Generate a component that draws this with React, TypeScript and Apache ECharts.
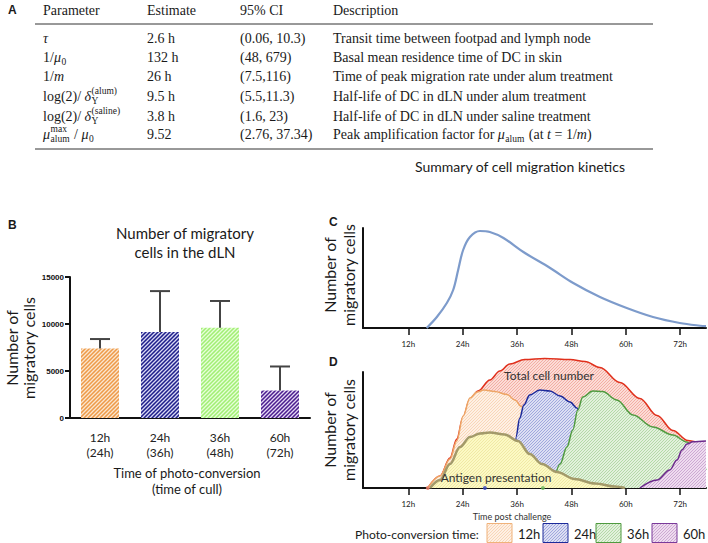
import React, { useEffect, useRef } from 'react';
import * as echarts from 'echarts';

// ---------------- data ----------------
type Tok = { t: string; it?: boolean; sub?: string; sup?: string };

const tableHeader = ['Parameter', 'Estimate', '95% CI', 'Description'];
const tableParameters: Tok[][] = [
  [{ t: 'τ', it: true }],
  [{ t: '1/' }, { t: 'μ', it: true, sub: '0' }],
  [{ t: '1/' }, { t: 'm', it: true }],
  [{ t: 'log(2)/ ' }, { t: 'δ', it: true, sub: 'Y', sup: '(alum)' }],
  [{ t: 'log(2)/ ' }, { t: 'δ', it: true, sub: 'Y', sup: '(saline)' }],
  [{ t: 'μ', it: true, sub: 'alum', sup: 'max' }, { t: ' / ' }, { t: 'μ', it: true, sub: '0' }],
];
const tableEstimates = ['2.6 h', '132 h', '26 h', '9.5 h', '3.8 h', '9.52'];
const tableIntervals = ['(0.06, 10.3)', '(48, 679)', '(7.5,116)', '(5.5,11.3)', '(1.6, 23)', '(2.76, 37.34)'];
const tableDescriptions: Tok[][] = [
  [{ t: 'Transit time between footpad and lymph node' }],
  [{ t: 'Basal mean residence time of DC in skin' }],
  [{ t: 'Time of peak migration rate under alum treatment' }],
  [{ t: 'Half-life of DC in dLN under alum treatment' }],
  [{ t: 'Half-life of DC in dLN under saline treatment' }],
  [
    { t: 'Peak amplification factor for ' },
    { t: 'μ', it: true, sub: 'alum' },
    { t: ' (at ' },
    { t: 't', it: true },
    { t: ' = 1/' },
    { t: 'm', it: true },
    { t: ')' },
  ],
];

const barCategories = ['12h\n(24h)', '24h\n(36h)', '36h\n(48h)', '60h\n(72h)'];
const barMeans = [7400, 9150, 9600, 2920];
const barUpper = [8400, 13500, 12450, 5480];

const timeTicks = [12, 24, 36, 48, 60, 72];

// panel C: migration kinetics (hours, relative units)
const kineticsCurve: [number, number][] = [
  [16.05, 0], [18.3, 11], [20.5, 25], [21.9, 38], [23.0, 58], [24.1, 78], [25.6, 91],
  [27.8, 97], [30, 96], [33, 90], [37.4, 76], [43.3, 60], [48.4, 45], [54.3, 31],
  [60.2, 20], [66, 11], [71.9, 5], [77, 2], [77.7, 1.8],
];

// panel D
const totalCells: [number, number][] = [
  [16.3, 0], [19.0, 12], [21.2, 30], [22.7, 49], [24.1, 71], [25.6, 89], [27.4, 97],
  [30.0, 108], [32.2, 117], [34.4, 124], [37.7, 128.5], [42.1, 129.5], [47.7, 128.5],
  [51.0, 126.5], [54.3, 120.5], [58.7, 105.5], [63.1, 89.5], [66.9, 72.5], [70.4, 57.5],
  [73.7, 47.5], [75.7, 46], [77.7, 46],
];
const conv12: [number, number][] = [
  [16.3, 0], [19.0, 12], [21.2, 29], [22.7, 47], [24.1, 72], [25.6, 90], [27.2, 96],
  [28.7, 98], [31.1, 96.5], [33.8, 93.5], [35.5, 88], [37.1, 81], [38.8, 50], [40, 0],
];
const conv24: [number, number][] = [
  [35.5, 0], [35.75, 51], [36.6, 70], [37.5, 83], [38.8, 93], [41.0, 98], [43.25, 97],
  [45.5, 92], [47.7, 86], [49.2, 80], [51.0, 48], [52.1, 0],
];
const conv36: [number, number][] = [
  [43.9, 0], [45.5, 24], [47.0, 41], [48.3, 58], [49.4, 78], [50.5, 91], [52.7, 97],
  [54.9, 96.5], [58.0, 88], [61.6, 73], [66.0, 61], [70.4, 53], [73.5, 46], [76.3, 28], [77.7, 18],
];
const conv60: [number, number][] = [
  [63.1, 0], [66.9, 8], [69.7, 18], [71.3, 28], [72.4, 38], [73.5, 44], [74.8, 46.3], [77.7, 47],
];
const antigen: [number, number][] = [
  [16.8, 0], [19.0, 8], [21.2, 24], [23.4, 41], [25.6, 51], [27.8, 54.5], [30.0, 55.5],
  [33.3, 53.5], [36.2, 47], [38.8, 34], [41.5, 24], [44.8, 16], [48.7, 9], [53.2, 4.5],
  [57.6, 1.5], [59.8, 0],
];
const onsetMarks: [number, number][] = [[16.3, 0], [28.9, 0], [41.7, 0]];

const legendLabels = ['12h', '24h', '36h', '60h'];

// ---------------- helpers ----------------
const SERIF = '"Liberation Serif", "DejaVu Serif", serif';
const SANS = 'Lato, "Open Sans", sans-serif';
const ARIAL = '"Liberation Sans", Arial, sans-serif';

let mctx: CanvasRenderingContext2D | null = null;
function textWidth(s: string, size: number, italic: boolean, family: string) {
  if (!mctx) mctx = document.createElement('canvas').getContext('2d');
  mctx!.font = `${italic ? 'italic ' : ''}${size}px ${family}`;
  return mctx!.measureText(s).width;
}

function txt(text: string, x: number, y: number, o: any = {}) {
  return {
    type: 'text',
    x,
    y,
    z: 100,
    rotation: o.rotation || 0,
    silent: true,
    style: {
      text,
      fontSize: o.size || 14,
      fontFamily: o.family || SANS,
      fontStyle: o.italic ? 'italic' : 'normal',
      fontWeight: o.bold ? 'bold' : 'normal',
      fill: o.fill || '#1a1a1a',
      align: o.align || 'left',
      verticalAlign: 'middle',
    },
  };
}

function tokens(toks: Tok[], x: number, y: number) {
  const out: any[] = [];
  let cx = x;
  const S = 14;
  const s = 9.5;
  for (const tk of toks) {
    out.push(txt(tk.t, cx, y, { size: S, family: SERIF, italic: tk.it }));
    cx += textWidth(tk.t, S, !!tk.it, SERIF);
    let extra = 0;
    if (tk.sup) {
      out.push(txt(tk.sup, cx + 0.5, y - 5.5, { size: s, family: SERIF }));
      extra = Math.max(extra, textWidth(tk.sup, s, false, SERIF));
    }
    if (tk.sub) {
      out.push(txt(tk.sub, cx + 0.5, y + 4.5, { size: s, family: SERIF }));
      extra = Math.max(extra, textWidth(tk.sub, s, false, SERIF));
    }
    if (extra) cx += extra + 1.5;
  }
  return out;
}

function hatch(bg: string, fg: string, size: number, lw: number) {
  const c = document.createElement('canvas');
  c.width = size;
  c.height = size;
  const g = c.getContext('2d')!;
  g.fillStyle = bg;
  g.fillRect(0, 0, size, size);
  g.strokeStyle = fg;
  g.lineWidth = lw;
  g.beginPath();
  g.moveTo(-1, size + 1);
  g.lineTo(size + 1, -1);
  g.moveTo(-size / 2 - 1, size / 2 + 1);
  g.lineTo(size / 2 + 1, -size / 2 - 1);
  g.moveTo(size / 2 - 1, size * 1.5 + 1);
  g.lineTo(size * 1.5 + 1, size / 2 - 1);
  g.stroke();
  return { image: c.toDataURL(), repeat: 'repeat', imageWidth: size, imageHeight: size };
}

export default function App() {
  const ref = useRef<HTMLDivElement>(null);

  useEffect(() => {
    document.body.style.margin = '0';
    const chart = echarts.init(ref.current!, undefined, { renderer: 'svg' });

    const barFills = [
      hatch('#ee9a48', '#fbe6cf', 4, 1.3),
      hatch('#1e1e8a', '#d8d8f4', 4, 1.3),
      hatch('#a2ee74', '#e6ffd8', 4, 1.3),
      hatch('#4b1d8e', '#e4d8f4', 4, 1.3),
    ];

    const dStyles = {
      total: { stroke: '#e0301c', fill: hatch('#fcdcd6', '#f0a89e', 3, 0.9) },
      c12: { stroke: '#eda566', fill: hatch('#fef0e4', '#f7d2b2', 3, 0.9) },
      c24: { stroke: '#1c2a9a', fill: hatch('#dcdff3', '#9aa2da', 3, 0.9) },
      c36: { stroke: '#4f9a3f', fill: hatch('#e2f1dc', '#afd6a2', 3, 0.9) },
      c60: { stroke: '#6c2a8c', fill: hatch('#eedcef', '#c8a2cf', 3, 0.9) },
      ag: { stroke: '#a39a6a', fill: hatch('#fcf9c4', '#eee6a2', 3, 0.9) },
    };

    // ---- graphic: table, labels, legend
    const g: any[] = [];
    const colX = [43, 147, 240, 333];
    const headerY = 10;
    const rowY = [38, 57, 76, 96, 116, 134];
    g.push(txt('A', 8, headerY, { size: 12, bold: true, family: ARIAL }));
    tableHeader.forEach((h, i) => g.push(txt(h, colX[i], headerY, { size: 14, family: SERIF })));
    g.push({ type: 'line', silent: true, z: 100, shape: { x1: 35, y1: 24, x2: 653, y2: 24 }, style: { stroke: '#333', lineWidth: 1 } });
    g.push({ type: 'line', silent: true, z: 100, shape: { x1: 35, y1: 149, x2: 653, y2: 149 }, style: { stroke: '#333', lineWidth: 1 } });
    tableParameters.forEach((p, i) => g.push(...tokens(p, colX[0], rowY[i])));
    tableEstimates.forEach((p, i) => g.push(txt(p, colX[1], rowY[i], { size: 14, family: SERIF })));
    tableIntervals.forEach((p, i) => g.push(txt(p, colX[2], rowY[i], { size: 14, family: SERIF })));
    tableDescriptions.forEach((p, i) => g.push(...tokens(p, colX[3], rowY[i])));

    g.push(txt('Summary of cell migration kinetics', 520, 166, { size: 14, align: 'center' }));

    // panel labels
    g.push(txt('B', 8, 225, { size: 12, bold: true, family: ARIAL }));
    g.push(txt('C', 329, 222, { size: 12, bold: true, family: ARIAL }));
    g.push(txt('D', 329, 362, { size: 12, bold: true, family: ARIAL }));

    // panel B texts
    g.push(txt('Number of migratory', 185, 233, { size: 15, align: 'center' }));
    g.push(txt('cells in the dLN', 185, 252, { size: 15, align: 'center' }));
    g.push(txt('Number of', 11, 348, { size: 16, align: 'center', rotation: Math.PI / 2 }));
    g.push(txt('migratory cells', 28, 348, { size: 16, align: 'center', rotation: Math.PI / 2 }));
    g.push(txt('Time of photo-conversion', 187, 473, { size: 13, align: 'center' }));
    g.push(txt('(time of cull)', 187, 489, { size: 13, align: 'center' }));

    // panel C / D y names
    g.push(txt('Number of', 329, 275, { size: 16, align: 'center', rotation: Math.PI / 2 }));
    g.push(txt('migratory cells', 348, 275, { size: 16, align: 'center', rotation: Math.PI / 2 }));
    g.push(txt('Number of', 329, 430, { size: 16, align: 'center', rotation: Math.PI / 2 }));
    g.push(txt('migratory cells', 348, 430, { size: 16, align: 'center', rotation: Math.PI / 2 }));

    // panel D annotations
    g.push(txt('Total cell number', 549, 375, { size: 12, align: 'center', fill: '#333' }));
    g.push(txt('Antigen presentation', 496, 477, { size: 12, align: 'center', fill: '#333' }));
    g.push(txt('Time post challenge', 512, 516, { size: 9, align: 'center', fill: '#333' }));

    // legend
    const legendTitle = 'Photo-conversion time:';
    const ltSize = Math.min(13, (13 * 124) / textWidth(legendTitle, 13, false, SANS));
    g.push(txt(legendTitle, 355, 534, { size: ltSize }));
    const legendStyles = [
      { stroke: '#f0b27a', fill: dStyles.c12.fill },
      { stroke: '#1c2a9a', fill: dStyles.c24.fill },
      { stroke: '#4f9a3f', fill: dStyles.c36.fill },
      { stroke: '#7a3a9a', fill: dStyles.c60.fill },
    ];
    const boxX = [487, 543, 596, 652];
    legendLabels.forEach((l, i) => {
      g.push({
        type: 'rect',
        silent: true,
        z: 100,
        shape: { x: boxX[i], y: 523.5, width: 25, height: 19 },
        style: { fill: legendStyles[i].fill, stroke: legendStyles[i].stroke, lineWidth: 1 },
      });
      g.push(txt(l, boxX[i] + 31, 534, { size: 13 }));
    });

    const timeAxis = (gridIndex: number) => ({
      type: 'value',
      gridIndex,
      min: 2,
      max: 77.7,
      axisLine: { show: true, lineStyle: { color: '#111', width: 2 } },
      axisTick: { show: true, customValues: timeTicks, length: 7, lineStyle: { color: '#111', width: 1.5 } },
      axisLabel: { customValues: timeTicks, formatter: '{value}h', fontSize: 8, color: '#222', margin: 12, fontFamily: SANS },
      splitLine: { show: false },
    });

    const dLine = (data: [number, number][], st: any, z: number, lw = 1.5) => ({
      type: 'line',
      xAxisIndex: 2,
      yAxisIndex: 2,
      data,
      smooth: 0.35,
      smoothMonotone: 'x',
      symbol: 'none',
      clip: false,
      z,
      lineStyle: { color: st.stroke, width: lw },
      areaStyle: { color: st.fill, opacity: 1 },
      silent: true,
    });

    const option: any = {
      animation: false,
      backgroundColor: '#ffffff',
      grid: [
        { left: 70, top: 277, width: 240, height: 141 },
        { left: 363, top: 228, width: 343, height: 100 },
        { left: 363, top: 372, width: 343, height: 116 },
      ],
      xAxis: [
        {
          type: 'category',
          gridIndex: 0,
          data: barCategories,
          axisLine: { lineStyle: { color: '#111', width: 2 } },
          axisTick: { alignWithLabel: true, length: 5, lineStyle: { color: '#111', width: 2 } },
          axisLabel: { fontSize: 12, color: '#222', lineHeight: 15, margin: 12, fontFamily: SANS },
        },
        timeAxis(1),
        timeAxis(2),
      ],
      yAxis: [
        {
          type: 'value',
          gridIndex: 0,
          min: 0,
          max: 15000,
          interval: 5000,
          axisLine: { show: true, lineStyle: { color: '#111', width: 2 } },
          axisTick: { show: true, length: 5, lineStyle: { color: '#111', width: 2 } },
          axisLabel: {
            fontSize: 8,
            fontWeight: 'bold',
            color: '#111',
            margin: 6,
            fontFamily: ARIAL,
            formatter: (v: number) => String(v),
          },
          splitLine: { show: false },
        },
        {
          type: 'value',
          gridIndex: 1,
          min: 0,
          max: 100,
          axisLine: { show: true, lineStyle: { color: '#111', width: 2 } },
          axisTick: { show: false },
          axisLabel: { show: false },
          splitLine: { show: false },
        },
        {
          type: 'value',
          gridIndex: 2,
          min: 0,
          max: 116,
          axisLine: { show: true, lineStyle: { color: '#111', width: 2 } },
          axisTick: { show: false },
          axisLabel: { show: false },
          splitLine: { show: false },
        },
      ],
      series: [
        {
          type: 'bar',
          xAxisIndex: 0,
          yAxisIndex: 0,
          barWidth: 38,
          data: barMeans.map((v, i) => ({ value: v, itemStyle: { color: barFills[i] } })),
          silent: true,
        },
        {
          type: 'custom',
          xAxisIndex: 0,
          yAxisIndex: 0,
          z: 3,
          silent: true,
          data: barMeans.map((m, i) => [i, m, barUpper[i]]),
          encode: { x: 0, y: [1, 2] },
          renderItem: (_p: any, api: any) => {
            const base = api.coord([api.value(0), api.value(1)]);
            const top = api.coord([api.value(0), api.value(2)]);
            const st = { stroke: '#444', lineWidth: 2 };
            return {
              type: 'group',
              children: [
                { type: 'line', shape: { x1: base[0], y1: base[1], x2: top[0], y2: top[1] }, style: st },
                { type: 'line', shape: { x1: top[0] - 10, y1: top[1], x2: top[0] + 10, y2: top[1] }, style: st },
              ],
            };
          },
        },
        {
          type: 'line',
          xAxisIndex: 1,
          yAxisIndex: 1,
          data: kineticsCurve,
          smooth: 0.35,
          symbol: 'none',
          clip: false,
          silent: true,
          lineStyle: { color: '#7d9bcb', width: 2.2 },
        },
        dLine(totalCells, dStyles.total, 2),
        dLine(conv12, dStyles.c12, 3),
        dLine(conv24, dStyles.c24, 4),
        dLine(conv36, dStyles.c36, 5),
        dLine(conv60, dStyles.c60, 6),
        dLine(antigen, dStyles.ag, 7, 2.5),
        {
          type: 'scatter',
          xAxisIndex: 2,
          yAxisIndex: 2,
          z: 8,
          silent: true,
          symbolSize: 4,
          data: onsetMarks.map((p, i) => ({
            value: p,
            itemStyle: { color: ['#e8806a', '#3444c0', '#6ab65a'][i] },
          })),
        },
      ],
      graphic: { elements: g },
    };

    chart.setOption(option);
    return () => chart.dispose();
  }, []);

  return <div ref={ref} style={{ width: 708, height: 543 }} />;
}
